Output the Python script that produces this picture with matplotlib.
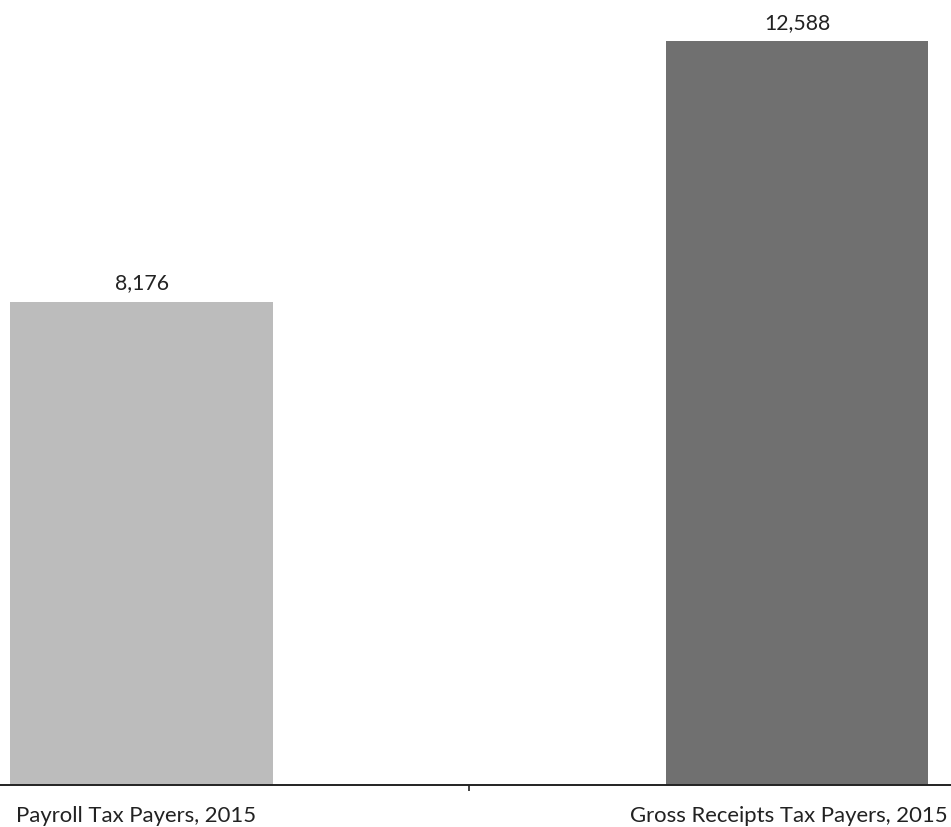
import matplotlib.pyplot as plt
import matplotlib.transforms as mtransforms

# Data
categories = ["Payroll Tax Payers, 2015", "Gross Receipts Tax Payers, 2015"]
values = [8176, 12588]
bar_colors = ["#bcbcbc", "#707070"]

plt.rcParams['font.family'] = ['Lato', 'DejaVu Sans']

fig = plt.figure(figsize=(9.51, 8.27), dpi=100)
ax = fig.add_axes([0, 42 / 827, 1, 785 / 827])

x = list(range(len(categories)))
bars = ax.bar(x, values, width=0.401, color=bar_colors, zorder=2)

for b, v in zip(bars, values):
    ax.annotate(f"{v:,}", (b.get_x() + b.get_width() / 2, v),
                xytext=(0, 6), textcoords="offset points",
                ha="center", va="bottom", fontsize=15.3, color="#222222")

ax.set_xlim(-0.216, 1.235)
ax.set_ylim(0, 13283)

for side in ["top", "right", "left"]:
    ax.spines[side].set_visible(False)
ax.spines["bottom"].set_linewidth(1.4)
ax.spines["bottom"].set_color("#222222")
ax.set_yticks([])

ax.set_xticks(x)
ax.set_xticklabels(categories, fontsize=15.9, color="#222222")
ax.tick_params(axis="x", which="major", length=0, pad=15)
ax.set_xticks([0.5], minor=True)
ax.tick_params(axis="x", which="minor", length=4.5, width=1.2, color="#222222")

# labels sit a little left of the bar centres, the last one kept inside the figure
for lbl, dx in zip(ax.get_xticklabels(), [-6, -8]):
    lbl.set_transform(lbl.get_transform() + mtransforms.ScaledTranslation(dx / 100, 0, fig.dpi_scale_trans))

fig.savefig("out.png", dpi=100)
